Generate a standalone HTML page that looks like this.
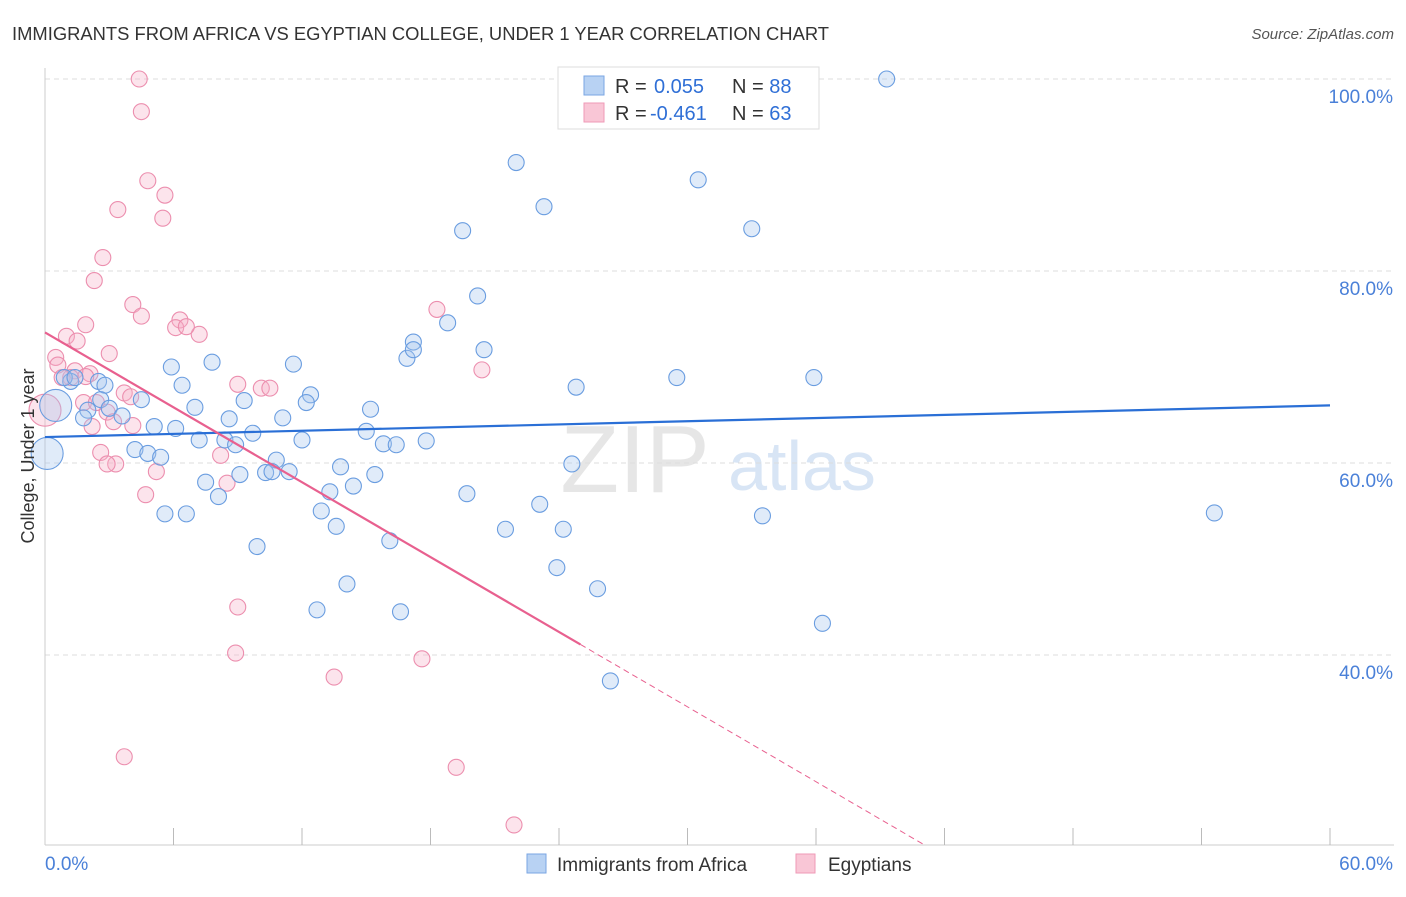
<!DOCTYPE html>
<html><head><meta charset="utf-8"><style>
body{margin:0;background:#fff;font-family:"Liberation Sans",sans-serif;}
svg text{font-family:"Liberation Sans",sans-serif;}
</style></head><body>
<svg id="chart" width="1406" height="892" xmlns="http://www.w3.org/2000/svg">
<text x="12" y="40" font-size="18" fill="#333" textLength="817" lengthAdjust="spacingAndGlyphs">IMMIGRANTS FROM AFRICA VS EGYPTIAN COLLEGE, UNDER 1 YEAR CORRELATION CHART</text>
<text x="1394" y="39" font-size="15" fill="#555" font-style="italic" text-anchor="end">Source: ZipAtlas.com</text>
<text x="635" y="492" font-size="96" fill="#e6e6e6" font-family="Liberation Serif" text-anchor="middle">ZIP</text>
<text x="802" y="490" font-size="70" fill="#d8e5f5" text-anchor="middle">atlas</text>
<g id="grid"></g><g id="axes"></g><g id="marks"></g>
<text transform="translate(34,456) rotate(-90)" font-size="18" fill="#333" text-anchor="middle">College, Under 1 year</text>
<g>
<rect x="558" y="67" width="261" height="62" fill="#fff" stroke="#ddd"/>
<rect x="584" y="76" width="20" height="19" fill="#b8d2f3" stroke="#7aa6e3"/>
<rect x="584" y="103" width="20" height="19" fill="#f9c6d6" stroke="#ef9ab7"/>
<text x="615" y="93" font-size="20" fill="#333">R = <tspan fill="#2f6fd6" x="654">0.055</tspan><tspan fill="#333" x="732">N = </tspan><tspan fill="#2f6fd6">88</tspan></text>
<text x="615" y="120" font-size="20" fill="#333">R = <tspan fill="#2f6fd6" x="650">-0.461</tspan><tspan fill="#333" x="732">N = </tspan><tspan fill="#2f6fd6">63</tspan></text>
</g>
<g>
<rect x="527" y="854" width="19" height="19" fill="#b8d2f3" stroke="#7aa6e3"/>
<text x="557" y="871" font-size="19" fill="#333">Immigrants from Africa</text>
<rect x="796" y="854" width="19" height="19" fill="#f9c6d6" stroke="#ef9ab7"/>
<text x="828" y="871" font-size="19" fill="#333">Egyptians</text>
</g>
</svg>
<script>
const blueX=[39.3,22.0,30.5,23.3,19.5,33.0,20.2,18.8,17.2,20.5,16.9,17.2,7.8,5.9,11.6,29.5,35.9,24.8,6.4,2.5,1.2,0.9,1.4,2.8,12.4,4.5,12.2,7.0,9.3,15.2,2.6,2.0,3.0,3.6,1.8,8.6,11.1,5.1,6.1,9.7,15.0,7.2,8.4,8.9,12.0,15.8,16.4,17.8,4.2,4.8,5.4,10.8,24.6,13.8,15.4,9.1,10.3,11.4,10.6,7.5,14.4,8.1,13.3,19.7,23.1,12.9,5.6,6.6,13.6,21.5,24.2,33.5,54.6,16.1,9.9,23.9,14.1,25.8,12.7,16.6,36.3,26.4];
const blueY=[100,91.3,89.5,86.7,84.2,84.4,77.4,74.6,72.6,71.8,70.9,71.8,70.5,70.0,70.3,68.9,68.9,67.9,68.1,68.5,68.5,68.9,68.9,68.1,67.1,66.6,66.3,65.8,66.5,65.6,66.6,65.5,65.7,64.9,64.7,64.6,64.7,63.8,63.6,63.1,63.3,62.4,62.4,61.9,62.4,62.0,61.9,62.3,61.4,61.0,60.6,60.3,59.9,59.6,58.8,58.8,59.0,59.1,59.1,58.0,57.6,56.5,57.0,56.8,55.7,55.0,54.7,54.7,53.4,53.1,53.1,54.5,54.8,51.9,51.3,49.1,47.4,46.9,44.7,44.5,43.3,37.3];
const blueBigX=[0.1,0.5];
const blueBigY=[61.0,66.0];
const pinkX=[4.4,4.5,4.8,5.6,3.4,5.5,2.7,2.3,4.1,4.5,1.9,6.3,6.1,7.2,6.6,1.0,1.5,18.3,3.0,0.5,0.6,1.4,2.1,1.2,0.8,1.9,9.0,10.1,10.5,20.4,3.7,4.0,1.8,2.4,2.9,4.1,3.2,2.2,2.6,3.3,2.9,5.2,8.2,8.5,4.7,9.0,8.9,17.6,13.5,3.7,19.2,21.9];
const pinkY=[100,96.6,89.4,87.9,86.4,85.5,81.4,79.0,76.5,75.3,74.4,74.9,74.1,73.4,74.2,73.2,72.7,76.0,71.4,71.0,70.2,69.6,69.3,68.9,68.9,69.0,68.2,67.8,67.8,69.7,67.3,66.9,66.3,66.3,65.3,63.9,64.3,63.8,61.1,59.9,59.9,59.1,60.8,57.9,56.7,45.0,40.2,39.6,37.7,29.4,28.3,22.3];
const pinkBigX=[0];
const pinkBigY=[65.5];
const blueTrend=[62.7,66.0]; // y at x=0 and x=60
const pinkTrend=[73.6,-1.3]; // intercept, slope
const xTicks=[0,60];
const yTicks=[100,80,60,40];
const NS="http://www.w3.org/2000/svg";
const X=v=>45+v*(1285/60), Y=v=>79+(100-v)*9.6;
function mk(t,a,p){const e=document.createElementNS(NS,t);for(const k in a)e.setAttribute(k,a[k]);document.getElementById(p).appendChild(e);return e;}
yTicks.forEach(v=>{
 const g=mk('line',{x1:45,x2:1394,y1:Y(v),y2:Y(v),stroke:'#ddd','stroke-dasharray':'5,4'},'grid');
 
 
 const t=mk('text',{x:1393,y:Y(v)+24,'font-size':19,fill:'#4a80d8','text-anchor':'end'},'axes');t.textContent=v.toFixed(1)+'%';
 
 
});
mk('line',{x1:45,x2:45,y1:68,y2:845,stroke:'#ccc'},'axes');
mk('line',{x1:45,x2:1394,y1:845,y2:845,stroke:'#ccc'},'axes');
for(let i=1;i<=10;i++){const tk=mk('line',{x1:X(i*6),x2:X(i*6),y1:828,y2:845,stroke:'#bbb'},'axes');
 
 }
xTicks.forEach((v,i)=>{const t=mk('text',{x:i?1393:45,y:870,'font-size':19,fill:'#4a80d8','text-anchor':i?'end':'start'},'axes');t.textContent=v.toFixed(1)+'%';
 
 });
function pts(xs,ys,r,fill,stroke,name){xs.forEach((x,i)=>{const c=mk('circle',{cx:X(x),cy:Y(ys[i]),r:r,fill:fill,'fill-opacity':0.35,stroke:stroke,'stroke-width':1.1},'marks');
 
 });}
pts(pinkX,pinkY,8,'#f6b3c8','#ec8eae','egyptians-point');
pts(pinkBigX,pinkBigY,16,'#f6b3c8','#ec8eae','egyptians-point');
pts(blueX,blueY,8,'#a6c5ee','#6a9de0','africa-point');
pts(blueBigX,blueBigY,16,'#a6c5ee','#6a9de0','africa-point');
const bl=mk('line',{x1:X(0),y1:Y(blueTrend[0]),x2:X(60),y2:Y(blueTrend[1]),stroke:'#2a6fd6','stroke-width':2.2},'marks');


const ps=25, pe=(20.2-pinkTrend[0])/pinkTrend[1];
const pl=mk('line',{x1:X(0),y1:Y(pinkTrend[0]),x2:X(ps),y2:Y(pinkTrend[0]+pinkTrend[1]*ps),stroke:'#e8608f','stroke-width':2.2},'marks');


const pd=mk('line',{x1:X(ps),y1:Y(pinkTrend[0]+pinkTrend[1]*ps),x2:X(pe),y2:Y(pinkTrend[0]+pinkTrend[1]*pe),stroke:'#e8608f','stroke-width':1,'stroke-dasharray':'6,4'},'marks');


</script>
</body></html>
